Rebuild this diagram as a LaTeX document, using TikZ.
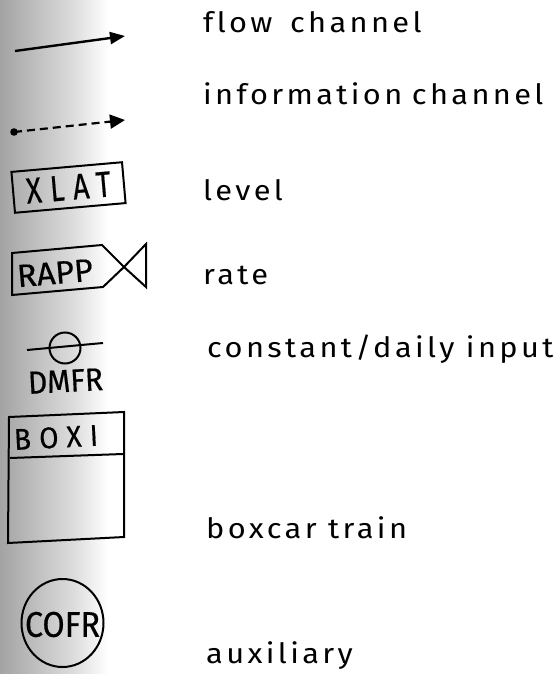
\documentclass[tikz,border=0pt]{standalone}
\usepackage{fontspec}
\usepackage{graphicx}
\setmainfont{Fira Sans}
\newfontfamily\labelfont{Fira Sans}[LetterSpace=12,FakeStretch=1.1,Ligatures=CommonOff]
\newfontfamily\symfont{Fira Sans}[Ligatures=CommonOff,FakeBold=0.5]
\newfontfamily\symwidefont{Fira Sans}[LetterSpace=30,Ligatures=CommonOff,FakeBold=0.5]
\usetikzlibrary{arrows.meta,shapes.geometric}
% symbol caption scaled to a given width and cap height
\newcommand\symtxt[3]{\resizebox{#1}{#2}{#3}}
\begin{document}
\begin{tikzpicture}[x=1pt,y=-1pt,
  lbl/.style={anchor=base west, inner sep=0pt, font=\labelfont\fontsize{28}{32}\selectfont},
  sym/.style={line width=2pt, black, line join=miter},
  symtext/.style={inner sep=0pt, anchor=center},
  flowline/.style={line width=2.4pt, -{Triangle[length=15pt,width=12pt]}},
  infoline/.style={line width=2.2pt, dash pattern=on 8pt off 5pt, -{Triangle[length=15pt,width=14pt]}},
  levelbox/.style={sym, draw, minimum width=111pt, minimum height=41pt, inner sep=0pt}]
\useasboundingbox (0,0) rectangle (559,674);
% grey edge of the scanned sheet
\shade[left color=black!36, right color=black!14] (0,0) rectangle (72,674);
\shade[left color=black!14, right color=white] (72,0) rectangle (108,674);

% flow channel
\coordinate (flowS) at (15,51);
\coordinate (flowE) at (125,36);
\draw[flowline] (flowS) -- (flowE);
\node[lbl] (tflow) at (203,33) {flow\hspace{6pt} channel};

% information channel
\coordinate (infoS) at (14,132);
\coordinate (infoE) at (125,120);
\fill (infoS) circle (3.8);
\draw[infoline] (infoS) -- (infoE);
\node[lbl] (tinfo) at (203,105) {information\hspace{-2pt} channel};

% level
\node[levelbox, rotate=5] (xlat) at (68.5,187.5) {\symtxt{85pt}{25pt}{\symwidefont XLAT}};
\node[lbl] (tlevel) at (203,200) {level};

% rate
\coordinate (rA) at (12,253);
\coordinate (rB) at (102,245);
\coordinate (rC) at (124,267);
\coordinate (rD) at (103,287);
\coordinate (rE) at (12,295);
\coordinate (vT) at (146,244);
\coordinate (vB) at (146,287);
\draw[sym] (rA) -- (rB) -- (rC) -- (rD) -- (rE) -- cycle;
\draw[sym] (rC) -- (vT) -- (vB) -- cycle;
\node[symtext, rotate=5] (rapp) at (55,273) {\symtxt{76pt}{22pt}{\symfont RAPP}};
\node[lbl] (trate) at (203,284) {rate};

% constant / daily input
\node[sym, draw, circle, minimum size=31pt, inner sep=0pt] (cin) at (65,348) {};
\coordinate (cL) at (27,350);
\coordinate (cR) at (103,343);
\draw[sym] (cL) -- (cR);
\node[symtext, rotate=3] (dmfr) at (65.5,381) {\symtxt{75pt}{22pt}{\symfont DMFR}};
\node[lbl] (tconst) at (207,357) {constant/daily input};

% boxcar train
\coordinate (bA) at (9,417);
\coordinate (bB) at (124,412);
\coordinate (bC) at (124,537);
\coordinate (bD) at (8,543);
\coordinate (bL) at (10,458);
\coordinate (bR) at (123,454);
\draw[sym] (bA) -- (bB) -- (bC) -- (bD) -- cycle;
\draw[sym] (bL) -- (bR);
\node[symtext, rotate=3] (boxi) at (56,437.5) {\symtxt{84pt}{21pt}{\symwidefont BOXI}};
\node[lbl] (tboxcar) at (206,538) {boxcar train};

% auxiliary
\node[sym, draw, ellipse, minimum width=82pt, minimum height=88pt, inner sep=0pt] (cofr) at (62.5,623) {};
\node[symtext] (cofrt) at (62.5,624.5) {\symtxt{75pt}{25pt}{\symfont COFR}};
\node[lbl] (taux) at (206,663) {auxiliary};
\end{tikzpicture}
\end{document}
